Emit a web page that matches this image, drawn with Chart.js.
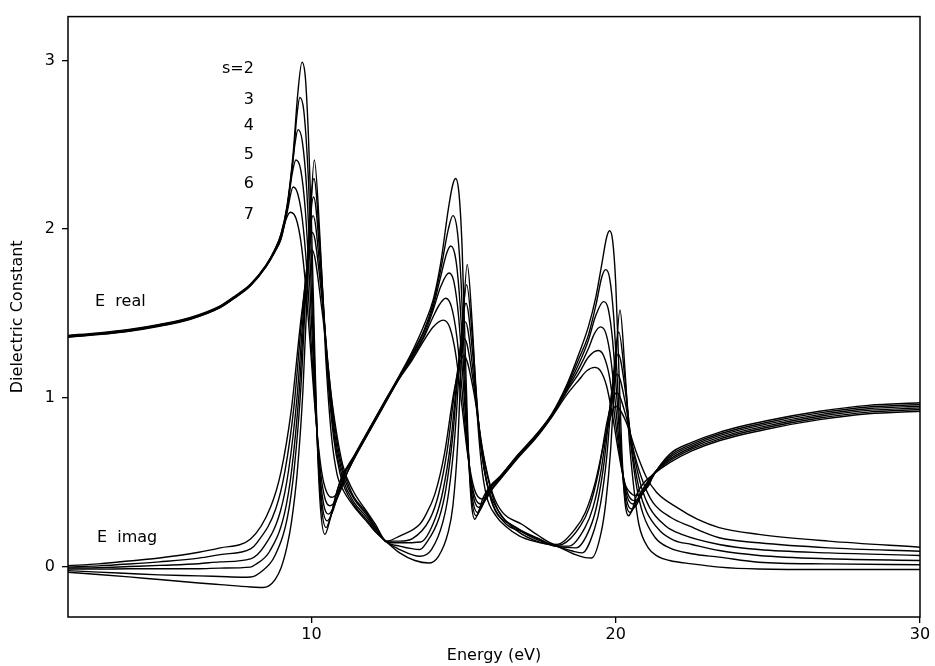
<!DOCTYPE html>
<html>
<head>
<meta charset="utf-8">
<script src="https://cdn.jsdelivr.net/npm/chart.js@4"></script>
<style>
  html, body { margin: 0; padding: 0; background: #fff; }
  canvas { display: block; }
</style>
</head>
<body>
<canvas id="c" width="935" height="666"></canvas>
<script>
// tick labels
const xTicks = [10, 20, 30];
const yTicks = [0, 1, 2, 3];
const sValues = ['s=2', '3', '4', '5', '6', '7'];

// real part, [energy (eV), value]
const real2 = [[2,1.37],[3,1.385],[4,1.405],[5,1.435],[6,1.475],[7,1.545],[7.5,1.605],[8,1.675],[8.5,1.785],[8.8,1.88],[9.0,1.97],[9.2,2.14],[9.4,2.45],[9.55,2.80],[9.69,2.99],[9.8,2.90],[9.9,2.56],[10.0,2.04],[10.1,1.33],[10.2,0.70],[10.3,0.34],[10.44,0.19],[10.6,0.27],[10.8,0.42],[11.0,0.53],[11.4,0.655],[11.8,0.785],[12.3,0.945],[12.9,1.135],[13.3,1.27],[13.7,1.43],[14.0,1.58],[14.25,1.80],[14.5,2.12],[14.64,2.26],[14.74,2.30],[14.85,2.21],[14.95,1.90],[15.05,1.31],[15.15,0.73],[15.25,0.39],[15.37,0.28],[15.5,0.33],[15.65,0.41],[15.85,0.47],[16.2,0.535],[16.8,0.665],[17.4,0.785],[17.9,0.905],[18.4,1.08],[18.81,1.27],[19.1,1.42],[19.35,1.60],[19.55,1.80],[19.7,1.95],[19.8,1.99],[19.9,1.93],[20.0,1.68],[20.1,1.19],[20.2,0.69],[20.3,0.39],[20.42,0.30],[20.55,0.34],[20.7,0.43],[20.9,0.49],[21.2,0.54],[21.77,0.615],[22.5,0.685],[23.4,0.745],[25,0.815],[26.7,0.87],[28.3,0.905],[30,0.92]];
const real3 = [[2,1.367],[3,1.382],[4,1.402],[5,1.432],[6,1.472],[7,1.542],[7.5,1.602],[8,1.672],[8.5,1.782],[8.8,1.878],[9.0,1.97],[9.2,2.13],[9.4,2.42],[9.52,2.67],[9.62,2.78],[9.75,2.70],[9.9,2.30],[10.0,1.82],[10.1,1.22],[10.2,0.72],[10.32,0.37],[10.48,0.23],[10.65,0.31],[10.85,0.45],[11.0,0.53],[11.4,0.652],[11.8,0.782],[12.3,0.942],[12.9,1.132],[13.3,1.26],[13.7,1.40],[14.0,1.56],[14.25,1.76],[14.5,2.00],[14.65,2.08],[14.8,1.98],[14.92,1.68],[15.03,1.20],[15.14,0.74],[15.26,0.41],[15.42,0.30],[15.6,0.36],[15.75,0.43],[15.9,0.48],[16.2,0.531],[16.8,0.662],[17.4,0.782],[17.9,0.902],[18.4,1.07],[18.81,1.24],[19.1,1.37],[19.35,1.55],[19.55,1.72],[19.67,1.76],[19.8,1.71],[19.93,1.49],[20.06,1.08],[20.19,0.64],[20.32,0.39],[20.47,0.32],[20.65,0.37],[20.8,0.43],[21.0,0.49],[21.2,0.54],[21.77,0.625],[22.5,0.695],[23.4,0.755],[25,0.825],[26.7,0.88],[28.3,0.915],[30,0.93]];
const real4 = [[2,1.365],[3,1.38],[4,1.40],[5,1.43],[6,1.47],[7,1.54],[7.5,1.60],[8,1.67],[8.5,1.78],[8.8,1.876],[9.0,1.96],[9.2,2.12],[9.35,2.34],[9.47,2.52],[9.56,2.59],[9.7,2.52],[9.85,2.22],[10.0,1.62],[10.1,1.145],[10.2,0.73],[10.35,0.37],[10.52,0.27],[10.7,0.325],[10.9,0.45],[11.05,0.54],[11.4,0.648],[11.8,0.778],[12.3,0.938],[12.9,1.128],[13.3,1.25],[13.7,1.39],[14.0,1.54],[14.25,1.72],[14.45,1.86],[14.58,1.90],[14.75,1.815],[14.88,1.567],[15.0,1.18],[15.12,0.77],[15.26,0.445],[15.46,0.32],[15.65,0.37],[15.8,0.44],[15.95,0.49],[16.2,0.527],[16.8,0.658],[17.4,0.778],[17.9,0.898],[18.4,1.06],[18.81,1.21],[19.1,1.34],[19.35,1.49],[19.6,1.57],[19.75,1.53],[19.9,1.336],[20.05,0.97],[20.2,0.613],[20.35,0.40],[20.52,0.34],[20.7,0.37],[20.85,0.43],[21.0,0.48],[21.2,0.54],[21.77,0.635],[22.5,0.705],[23.4,0.765],[25,0.835],[26.7,0.89],[28.3,0.925],[30,0.94]];
const real5 = [[2,1.363],[3,1.378],[4,1.398],[5,1.428],[6,1.468],[7,1.538],[7.5,1.598],[8,1.668],[8.5,1.778],[8.8,1.872],[9.0,1.95],[9.2,2.11],[9.35,2.31],[9.49,2.41],[9.65,2.35],[9.8,2.11],[9.95,1.65],[10.1,1.07],[10.25,0.61],[10.4,0.37],[10.56,0.31],[10.75,0.36],[10.95,0.46],[11.1,0.55],[11.4,0.644],[11.8,0.774],[12.3,0.934],[12.9,1.124],[13.3,1.24],[13.7,1.37],[14.0,1.52],[14.25,1.66],[14.52,1.74],[14.68,1.69],[14.84,1.475],[15.0,1.06],[15.15,0.68],[15.3,0.436],[15.5,0.35],[15.7,0.39],[15.85,0.45],[16.0,0.49],[16.2,0.523],[16.8,0.654],[17.4,0.774],[17.9,0.894],[18.4,1.05],[18.81,1.18],[19.1,1.29],[19.3,1.38],[19.5,1.42],[19.68,1.38],[19.85,1.215],[20.02,0.905],[20.2,0.59],[20.37,0.418],[20.56,0.37],[20.75,0.395],[20.9,0.44],[21.05,0.485],[21.2,0.535],[21.77,0.645],[22.5,0.715],[23.4,0.775],[25,0.845],[26.7,0.90],[28.3,0.935],[30,0.95]];
const real6 = [[2,1.361],[3,1.376],[4,1.396],[5,1.426],[6,1.466],[7,1.536],[7.5,1.596],[8,1.666],[8.5,1.776],[8.8,1.868],[9.0,1.945],[9.2,2.10],[9.4,2.25],[9.55,2.21],[9.7,2.06],[9.85,1.76],[10.0,1.30],[10.15,0.876],[10.3,0.56],[10.45,0.40],[10.61,0.36],[10.8,0.39],[11.0,0.47],[11.15,0.545],[11.4,0.64],[11.8,0.77],[12.3,0.93],[12.9,1.12],[13.3,1.23],[13.7,1.36],[14.0,1.48],[14.2,1.55],[14.41,1.59],[14.6,1.54],[14.78,1.36],[14.95,1.045],[15.12,0.70],[15.3,0.46],[15.55,0.37],[15.75,0.40],[15.9,0.45],[16.05,0.49],[16.2,0.519],[16.8,0.65],[17.4,0.77],[17.9,0.89],[18.4,1.04],[18.81,1.15],[19.1,1.24],[19.42,1.28],[19.6,1.25],[19.8,1.12],[20.0,0.845],[20.2,0.583],[20.4,0.429],[20.61,0.39],[20.8,0.41],[20.95,0.45],[21.1,0.49],[21.2,0.53],[21.77,0.655],[22.5,0.725],[23.4,0.785],[25,0.855],[26.7,0.91],[28.3,0.945],[30,0.96]];
const real7 = [[2,1.359],[3,1.374],[4,1.394],[5,1.424],[6,1.464],[7,1.534],[7.5,1.594],[8,1.664],[8.5,1.774],[8.8,1.865],[9.0,1.94],[9.15,2.05],[9.31,2.10],[9.5,2.06],[9.65,1.93],[9.8,1.685],[9.95,1.34],[10.1,0.975],[10.25,0.68],[10.4,0.50],[10.66,0.41],[10.85,0.435],[11.05,0.51],[11.4,0.636],[11.8,0.766],[12.3,0.926],[12.9,1.116],[13.3,1.22],[13.7,1.34],[14.0,1.42],[14.33,1.46],[14.55,1.415],[14.75,1.25],[14.95,0.945],[15.15,0.645],[15.35,0.46],[15.6,0.40],[15.8,0.42],[15.95,0.46],[16.2,0.515],[16.8,0.646],[17.4,0.766],[17.9,0.886],[18.4,1.02],[18.81,1.11],[19.05,1.16],[19.31,1.18],[19.5,1.16],[19.7,1.07],[19.9,0.89],[20.1,0.67],[20.3,0.49],[20.45,0.443],[20.65,0.42],[20.85,0.433],[21.0,0.46],[21.1,0.485],[21.2,0.525],[21.77,0.665],[22.5,0.735],[23.4,0.795],[25,0.865],[26.7,0.92],[28.3,0.955],[30,0.97]];

// imaginary part
const imag2 = [[2,-0.035],[3,-0.048],[4,-0.062],[5,-0.078],[6.3,-0.098],[7,-0.108],[8,-0.122],[8.4,-0.125],[8.6,-0.115],[8.8,-0.08],[9.0,-0.01],[9.2,0.12],[9.35,0.27],[9.53,0.55],[9.72,1.04],[9.91,1.82],[10.095,2.41],[10.28,1.95],[10.47,1.24],[10.66,0.77],[10.85,0.54],[11.05,0.45],[11.4,0.355],[11.8,0.27],[12.1,0.205],[12.47,0.145],[12.9,0.08],[13.4,0.035],[13.85,0.02],[14.175,0.06],[14.49,0.20],[14.65,0.36],[14.805,0.72],[14.96,1.36],[15.12,1.79],[15.28,1.45],[15.435,0.935],[15.59,0.60],[15.75,0.42],[16.065,0.30],[16.4,0.235],[16.84,0.18],[17.4,0.145],[18.05,0.12],[18.6,0.075],[19.0,0.052],[19.21,0.05],[19.52,0.20],[19.675,0.38],[19.83,0.685],[19.985,1.17],[20.14,1.52],[20.295,1.19],[20.45,0.74],[20.605,0.45],[20.76,0.25],[21.07,0.11],[21.38,0.06],[21.77,0.035],[22.5,0.015],[23.4,-0.004],[24.7,-0.015],[27,-0.018],[30,-0.018]];
const imag3 = [[2,-0.025],[3,-0.034],[4,-0.042],[5,-0.05],[6.3,-0.056],[7,-0.06],[7.7,-0.064],[8,-0.063],[8.36,-0.03],[8.79,0.06],[9.22,0.30],[9.435,0.58],[9.65,1.05],[9.865,1.79],[10.08,2.30],[10.295,1.86],[10.51,1.19],[10.725,0.77],[10.94,0.55],[11.1,0.46],[11.4,0.365],[11.8,0.28],[12.1,0.21],[12.47,0.145],[12.9,0.10],[13.56,0.06],[13.945,0.10],[14.33,0.27],[14.52,0.45],[14.715,0.78],[14.91,1.31],[15.10,1.67],[15.29,1.36],[15.485,0.87],[15.68,0.57],[15.87,0.43],[16.255,0.30],[16.84,0.20],[17.4,0.15],[18.05,0.12],[18.6,0.09],[18.9,0.08],[19.3,0.22],[19.5,0.37],[19.7,0.64],[19.9,1.08],[20.1,1.39],[20.3,1.12],[20.5,0.72],[20.7,0.46],[20.9,0.31],[21.3,0.17],[21.77,0.11],[22.5,0.075],[23.4,0.055],[24.7,0.025],[27,0.015],[30,0.01]];
const imag4 = [[2,-0.016],[3,-0.016],[4,-0.014],[5,-0.014],[6.3,-0.014],[7,-0.01],[8,-0.004],[8.15,0.01],[8.63,0.09],[9.11,0.31],[9.35,0.57],[9.59,1.02],[9.83,1.70],[10.07,2.19],[10.31,1.77],[10.55,1.13],[10.79,0.72],[11.03,0.52],[11.4,0.38],[11.8,0.295],[12.1,0.22],[12.47,0.145],[12.9,0.12],[13.56,0.10],[13.76,0.135],[14.2,0.29],[14.42,0.46],[14.64,0.765],[14.86,1.24],[15.08,1.56],[15.3,1.26],[15.52,0.80],[15.74,0.52],[15.96,0.37],[16.4,0.25],[16.84,0.21],[17.4,0.16],[18.05,0.12],[18.7,0.11],[19.16,0.23],[19.39,0.37],[19.62,0.62],[19.85,1.01],[20.08,1.26],[20.31,1.05],[20.54,0.69],[20.77,0.46],[21.0,0.33],[21.46,0.21],[21.92,0.155],[22.5,0.13],[23.4,0.094],[24.7,0.065],[27,0.045],[30,0.035]];
const imag5 = [[2,-0.01],[3,-0.008],[4,-0.001],[5,0.006],[6.3,0.016],[7,0.027],[8,0.045],[8.45,0.12],[8.985,0.33],[9.25,0.57],[9.52,0.99],[9.79,1.63],[10.055,2.08],[10.32,1.68],[10.59,1.07],[10.86,0.68],[11.125,0.50],[11.4,0.40],[11.8,0.31],[12.1,0.23],[12.47,0.145],[12.9,0.14],[13.59,0.145],[14.08,0.29],[14.325,0.45],[14.57,0.725],[14.815,1.16],[15.06,1.45],[15.305,1.17],[15.55,0.74],[15.795,0.47],[16.04,0.33],[16.53,0.25],[17.0,0.20],[17.5,0.16],[18.05,0.12],[18.46,0.12],[18.99,0.23],[19.255,0.35],[19.52,0.57],[19.785,0.91],[20.05,1.14],[20.315,0.97],[20.58,0.68],[20.845,0.47],[21.11,0.35],[21.64,0.24],[22.17,0.19],[23.4,0.13],[24.7,0.10],[27,0.08],[30,0.065]];
const imag6 = [[2,-0.004],[3,0.003],[4,0.014],[5,0.027],[6.3,0.049],[7,0.07],[8,0.104],[8.22,0.143],[8.825,0.34],[9.13,0.565],[9.43,0.955],[9.73,1.56],[10.035,1.98],[10.34,1.60],[10.64,1.02],[10.94,0.64],[11.245,0.47],[11.4,0.41],[11.8,0.32],[12.1,0.235],[12.47,0.15],[12.9,0.15],[13.32,0.165],[13.89,0.28],[14.175,0.425],[14.46,0.685],[14.745,1.09],[15.03,1.35],[15.315,1.10],[15.6,0.71],[15.885,0.46],[16.17,0.32],[16.74,0.23],[17.4,0.17],[18.05,0.125],[18.245,0.13],[18.84,0.24],[19.135,0.35],[19.435,0.56],[19.73,0.87],[20.03,1.03],[20.325,0.90],[20.625,0.66],[20.92,0.49],[21.22,0.38],[21.815,0.29],[22.41,0.24],[23.4,0.17],[24.7,0.14],[27,0.11],[30,0.09]];
const imag7 = [[2,0.004],[3,0.015],[4,0.032],[5,0.05],[6.3,0.084],[7,0.11],[8,0.163],[8.665,0.355],[9.0,0.56],[9.34,0.93],[9.68,1.50],[10.015,1.88],[10.35,1.515],[10.69,0.96],[11.03,0.60],[11.365,0.45],[11.8,0.33],[12.1,0.25],[12.47,0.15],[12.9,0.18],[13.56,0.25],[13.74,0.30],[14.06,0.43],[14.375,0.67],[14.69,1.04],[15.01,1.25],[15.33,1.04],[15.645,0.67],[15.96,0.43],[16.28,0.32],[16.915,0.25],[17.4,0.19],[18.05,0.13],[18.66,0.22],[19.0,0.32],[19.33,0.50],[19.665,0.77],[20.0,0.95],[20.335,0.86],[20.67,0.68],[21.005,0.53],[21.34,0.44],[22.01,0.35],[22.68,0.28],[23.4,0.23],[24.7,0.19],[27,0.15],[30,0.114]];

const FONT = "'DejaVu Sans', 'Liberation Sans', sans-serif";

const series = [real2, real3, real4, real5, real6, real7, imag2, imag3, imag4, imag5, imag6, imag7];
const datasets = series.map(pts => ({
    data: pts.map(p => ({ x: p[0], y: p[1] })),
    borderColor: '#000',
    borderWidth: 1.4,
    pointRadius: 0,
    fill: false,
    cubicInterpolationMode: 'monotone'
}));

// text labels drawn inside the plot, placed in data units
const labelsInPlot = [
    { text: sValues[0], x: 8.11, y: 2.953, align: 'right' },
    { text: sValues[1], x: 8.11, y: 2.765, align: 'right' },
    { text: sValues[2], x: 8.11, y: 2.612, align: 'right' },
    { text: sValues[3], x: 8.11, y: 2.441, align: 'right' },
    { text: sValues[4], x: 8.11, y: 2.271, align: 'right' },
    { text: sValues[5], x: 8.11, y: 2.082, align: 'right' },
    { text: 'E  real', x: 2.89, y: 1.571, align: 'left' },
    { text: 'E  imag', x: 2.95, y: 0.171, align: 'left' }
];

const framePlugin = {
    id: 'frame',
    afterDraw(chart) {
        const { ctx, chartArea: a, scales } = chart;
        ctx.save();
        ctx.strokeStyle = '#000';
        ctx.lineWidth = 1.5;
        ctx.strokeRect(a.left, a.top, a.right - a.left, a.bottom - a.top);
        ctx.fillStyle = '#000';
        ctx.font = '16px ' + FONT;
        ctx.textBaseline = 'middle';
        labelsInPlot.forEach(l => {
            ctx.textAlign = l.align;
            ctx.fillText(l.text, scales.x.getPixelForValue(l.x), scales.y.getPixelForValue(l.y));
        });
        ctx.restore();
    }
};

new Chart(document.getElementById('c'), {
    type: 'line',
    data: { datasets },
    plugins: [framePlugin],
    options: {
        responsive: false,
        animation: false,
        devicePixelRatio: 1,
        layout: { padding: { top: 12, right: 15, left: 0, bottom: 0 } },
        plugins: { legend: { display: false }, tooltip: { enabled: false } },
        scales: {
            x: {
                type: 'linear',
                min: 2,
                max: 30,
                afterBuildTicks: s => { s.ticks = xTicks.map(v => ({ value: v })); },
                afterFit: s => { s.height = 49; },
                border: { display: false },
                grid: { drawOnChartArea: false, drawTicks: true, tickLength: 6, color: '#000', lineWidth: 1.3 },
                ticks: { color: '#000', font: { size: 16, family: FONT }, padding: 2, maxRotation: 0 },
                title: { display: true, text: 'Energy (eV)', color: '#000', font: { size: 16, family: FONT }, padding: { top: 0, bottom: 1 } }
            },
            y: {
                min: -0.3,
                max: 3.26,
                afterBuildTicks: s => { s.ticks = yTicks.map(v => ({ value: v })); },
                afterFit: s => { s.width = 68; },
                border: { display: false },
                grid: { drawOnChartArea: false, drawTicks: true, tickLength: 6, color: '#000', lineWidth: 1.3 },
                ticks: { color: '#000', font: { size: 16, family: FONT }, padding: 7 },
                title: { display: true, text: 'Dielectric Constant', color: '#000', font: { size: 16, family: FONT }, padding: { top: 8, bottom: 0 } }
            }
        }
    }
});
</script>
</body>
</html>
